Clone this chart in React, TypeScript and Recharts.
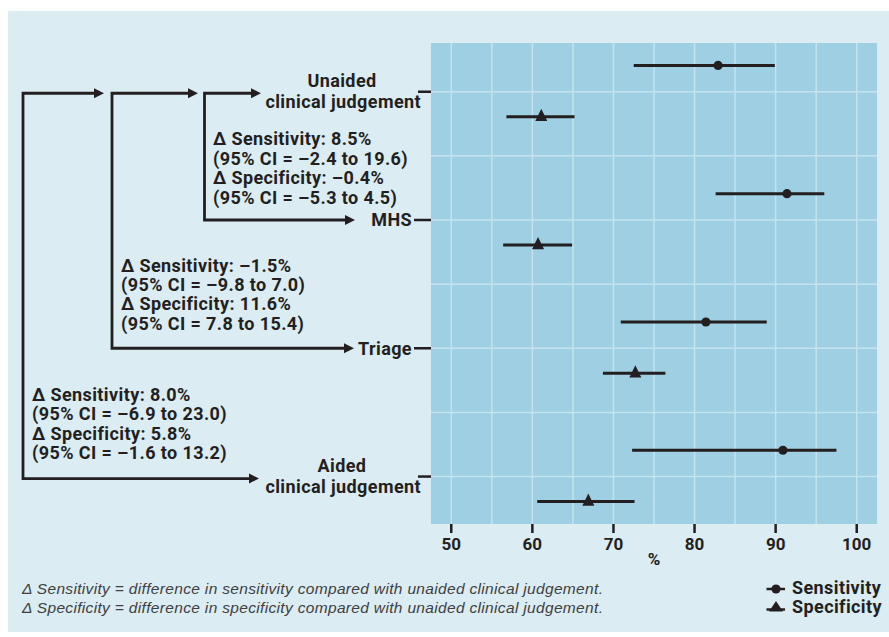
import React from 'react';
import { ScatterChart, Scatter, XAxis, YAxis, CartesianGrid, ErrorBar } from 'recharts';

// ---------- data ----------
const categoryLines: string[][] = [
  ['Unaided', 'clinical judgement'],
  ['MHS'],
  ['Triage'],
  ['Aided', 'clinical judgement'],
];
const categoryPos = [4, 3, 2, 1];

const sensitivity = [82.9, 91.4, 81.4, 90.9];
const sensitivityLow = [72.5, 82.6, 70.9, 72.3];
const sensitivityHigh = [89.9, 96.0, 88.9, 97.5];

const specificity = [61.1, 60.7, 72.7, 66.9];
const specificityLow = [56.8, 56.4, 68.7, 60.6];
const specificityHigh = [65.2, 64.9, 76.4, 72.6];

const xTicks = [50, 60, 70, 80, 90, 100];
const xGrid = [50, 55, 60, 65, 70, 75, 80, 85, 90, 95, 100];
const yGrid = [1, 1.5, 2, 2.5, 3, 3.5, 4];

const deltaBlocks: string[][] = [
  ['Δ Sensitivity: 8.5%', '(95% CI = –2.4 to 19.6)', 'Δ Specificity: –0.4%', '(95% CI = –5.3 to 4.5)'],
  ['Δ Sensitivity: –1.5%', '(95% CI = –9.8 to 7.0)', 'Δ Specificity: 11.6%', '(95% CI = 7.8 to 15.4)'],
  ['Δ Sensitivity: 8.0%', '(95% CI = –6.9 to 23.0)', 'Δ Specificity: 5.8%', '(95% CI = –1.6 to 13.2)'],
];
const footnotes = [
  'Δ Sensitivity = difference in sensitivity compared with unaided clinical judgement.',
  'Δ Specificity = difference in specificity compared with unaided clinical judgement.',
];
const legendLabels = ['Sensitivity', 'Specificity'];

// ---------- layout ----------
const W = 881;
const H = 621;
const OX = 8; // page offset of chart
const OY = 11;
const margin = { top: 32, right: 12, bottom: 48, left: 0 };
const Y_AXIS_W = 423;
const X_AXIS_H = 60;
const PLOT_LEFT = margin.left + Y_AXIS_W;
const PLOT_TOP = margin.top;
const PLOT_H = H - margin.top - margin.bottom - X_AXIS_H;
const Y_DOMAIN: [number, number] = [0.63, 4.38];
const X_DOMAIN: [number, number] = [47.5, 102.5];

const INK = '#231f20';
const BG = '#dbecf3';
const PLOT_BG = '#9ecfe2';
const GRID = '#c4e3ee';
const FONT = 'Roboto, "DejaVu Sans", sans-serif';

const yPx = (v: number) => PLOT_TOP + ((Y_DOMAIN[1] - v) / (Y_DOMAIN[1] - Y_DOMAIN[0])) * PLOT_H;

const sensData = categoryPos.map((p, i) => ({
  x: sensitivity[i],
  y: p + 0.205,
  err: [sensitivity[i] - sensitivityLow[i], sensitivityHigh[i] - sensitivity[i]],
}));
const specData = categoryPos.map((p, i) => ({
  x: specificity[i],
  y: p - 0.195,
  err: [specificity[i] - specificityLow[i], specificityHigh[i] - specificity[i]],
}));

const CircleShape = (props: any) => {
  const { cx, cy } = props;
  return <circle cx={cx} cy={cy} r={4.6} fill={INK} />;
};
const TriangleShape = (props: any) => {
  const { cx, cy } = props;
  return <path d={`M${cx},${cy - 8} L${cx + 6},${cy + 4.3} L${cx - 6},${cy + 4.3} Z`} fill={INK} />;
};

const labelStyle = { fontFamily: FONT, fontWeight: 700, fontSize: 18, letterSpacing: 0.4, fill: INK } as const;

const YTick = (props: any) => {
  const { y, payload } = props;
  const idx = categoryPos.indexOf(payload.value);
  if (idx < 0) return null;
  const lines = categoryLines[idx];
  if (lines.length === 2) {
    return (
      <g>
        <line x1={PLOT_LEFT - 13} x2={PLOT_LEFT} y1={y} y2={y} stroke={INK} strokeWidth={2.5} />
        <text x={PLOT_LEFT - 89} y={y - 4.5} textAnchor="middle" {...labelStyle}>{lines[0]}</text>
        <text x={PLOT_LEFT - 10} y={y + 16} textAnchor="end" {...labelStyle}>{lines[1]}</text>
      </g>
    );
  }
  return (
    <g>
      <line x1={PLOT_LEFT - 17} x2={PLOT_LEFT} y1={y} y2={y} stroke={INK} strokeWidth={2.5} />
      <text x={PLOT_LEFT - 19} y={y + 6.4} textAnchor="end" {...labelStyle}>{lines[0]}</text>
    </g>
  );
};

// arrows drawn in page coordinates, translated into chart space
const Bracket = ({ x, yTop, yBot, topTip, botTip }: { x: number; yTop: number; yBot: number; topTip: number; botTip: number }) => {
  const hl = 9;
  const hw = 5;
  return (
    <g>
      <polyline
        points={`${topTip - hl},${yTop} ${x},${yTop} ${x},${yBot} ${botTip - hl},${yBot}`}
        fill="none"
        stroke={INK}
        strokeWidth={2.8}
        strokeLinejoin="miter"
      />
      <path d={`M${topTip - hl - 1},${yTop - hw} L${topTip},${yTop} L${topTip - hl - 1},${yTop + hw} Z`} fill={INK} />
      <path d={`M${botTip - hl - 1},${yBot - hw} L${botTip},${yBot} L${botTip - hl - 1},${yBot + hw} Z`} fill={INK} />
    </g>
  );
};

const Overlay = () => {
  const yU = yPx(4) + OY; // page coords
  const yM = yPx(3) + OY;
  const yT = yPx(2) + OY;
  const yA = yPx(1) + OY;
  const blockPos = [
    { x: 213, y: yU + 53.5, step: 19.6 },
    { x: 121, y: yM + 51.5, step: 19.4 },
    { x: 32, y: yT + 52.5, step: 19.4 },
  ];
  return (
    <svg width={W} height={H} style={{ position: 'absolute', left: 0, top: 0, pointerEvents: 'none' }}>
      <g transform={`translate(${-OX},${-OY})`}>
        <Bracket x={23} yTop={yU + 1.5} yBot={yA + 2} topTip={104} botTip={259} />
        <Bracket x={112} yTop={yU + 1.5} yBot={yT} topTip={198} botTip={354} />
        <Bracket x={204.5} yTop={yU + 1.5} yBot={yM} topTip={261} botTip={355} />
        {deltaBlocks.map((lines, b) =>
          lines.map((t, i) => (
            <text key={`${b}-${i}`} x={blockPos[b].x} y={blockPos[b].y + i * blockPos[b].step} {...labelStyle}>
              {t}
            </text>
          ))
        )}
        {footnotes.map((t, i) => (
          <text
            key={t}
            x={22}
            y={594 + i * 19}
            fontFamily='"Liberation Sans", Arial, sans-serif'
            fontStyle="italic"
            fontSize={15.5}
            letterSpacing={0.33}
            fill="#404040"
          >
            {t}
          </text>
        ))}
        {/* legend */}
        <line x1={766.5} x2={785} y1={589} y2={589} stroke={INK} strokeWidth={2.5} />
        <circle cx={776} cy={589} r={4.6} fill={INK} />
        <line x1={766.5} x2={785} y1={609.5} y2={609.5} stroke={INK} strokeWidth={2.5} />
        <path d={`M776,601 L783,611.5 L769,611.5 Z`} fill={INK} />
        {legendLabels.map((t, i) => (
          <text key={t} x={792} y={594 + i * 19} {...labelStyle}>
            {t}
          </text>
        ))}
      </g>
    </svg>
  );
};

export default function App() {
  return (
    <div style={{ position: 'relative', width: 889, height: 637, background: '#ffffff', overflow: 'hidden' }}>
      <style>{'body{margin:0;overflow:hidden}'}</style>
      <div style={{ position: 'absolute', left: OX, top: OY, width: W, height: H, background: BG }}>
        <ScatterChart width={W} height={H} margin={margin} style={{ fontFamily: FONT }}>
          <CartesianGrid
            fill={PLOT_BG}
            fillOpacity={1}
            stroke={GRID}
            strokeWidth={1.5}
            verticalValues={xGrid}
            horizontalValues={yGrid}
          />
          <XAxis
            type="number"
            dataKey="x"
            domain={X_DOMAIN}
            ticks={xTicks}
            allowDataOverflow
            axisLine={false}
            tickLine={{ stroke: INK, strokeWidth: 2.5 }}
            tickSize={9}
            tickMargin={5}
            height={X_AXIS_H}
            tick={{ fill: INK, fontSize: 17, fontWeight: 700, fontFamily: FONT }}
            label={{ value: '%', position: 'insideBottom', offset: 19, fill: INK, fontSize: 17, fontWeight: 700, fontFamily: FONT }}
          />
          <YAxis
            type="number"
            dataKey="y"
            domain={Y_DOMAIN}
            ticks={categoryPos}
            allowDataOverflow
            axisLine={false}
            tickLine={false}
            width={Y_AXIS_W}
            tick={<YTick />}
          />
          <Scatter data={sensData} shape={<CircleShape />} isAnimationActive={false}>
            <ErrorBar dataKey="err" direction="x" width={0} stroke={INK} strokeWidth={3} />
          </Scatter>
          <Scatter data={specData} shape={<TriangleShape />} isAnimationActive={false}>
            <ErrorBar dataKey="err" direction="x" width={0} stroke={INK} strokeWidth={3} />
          </Scatter>
        </ScatterChart>
        <Overlay />
      </div>
    </div>
  );
}
